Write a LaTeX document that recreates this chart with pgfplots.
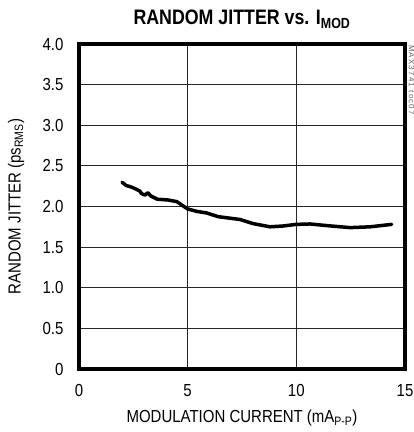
\documentclass[border=0pt]{standalone}
\usepackage{fontspec}
\setmainfont{Liberation Sans}[FakeStretch=0.86]
\newfontfamily\titlefont{Liberation Sans}[FakeStretch=0.85]
\newfontfamily\tocfont{Liberation Sans}[LetterSpace=15]
\usepackage{pgfplots}
\pgfplotsset{compat=1.18}

\begin{document}
\begin{tikzpicture}[x=1bp,y=1bp]
\path[use as bounding box] (0,0) rectangle (414,432);
\begin{axis}[
    at={(79bp,63bp)}, anchor=south west,
    width=326bp, height=325bp, scale only axis,
    xmin=0, xmax=15, ymin=0, ymax=4,
    xtick={0,5,10,15},
    ytick={0,0.5,1,1.5,2,2.5,3,3.5,4},
    yticklabels={0,0.5,1.0,1.5,2.0,2.5,3.0,3.5,4.0},
    major tick length=0pt,
    grid=major,
    grid style={black!85, line width=0.8bp},
    axis line style={line width=3.2bp},
    tick label style={font=\fontsize{17.5}{20}\selectfont},
    /pgf/number format/assume math mode=true,
    yticklabel style={xshift=-12bp},
    xticklabel style={yshift=-12bp},
    xlabel={MODULATION CURRENT (mA\textsubscript{P-P})},
    ylabel={RANDOM JITTER (ps\textsubscript{RMS})},
    label style={font=\fontsize{17.5}{20}\selectfont},
    xlabel style={at={(axis description cs:0.5,-0.151)}, anchor=center},
    ylabel style={at={(axis description cs:-0.193,0.5)}, anchor=center},
]
\addplot[black, line width=3.5bp, line join=round, line cap=round]
    coordinates {(1.98,2.30)(2.16,2.26)(2.4,2.24)(2.58,2.22)(2.8,2.19)(2.87,2.16)
    (3.04,2.14)(3.17,2.17)(3.3,2.13)(3.6,2.09)(4.1,2.08)(4.5,2.06)(4.72,2.02)
    (5.0,1.97)(5.42,1.94)(5.88,1.92)(6.4,1.875)(7.41,1.84)(8.0,1.79)(8.79,1.75)
    (9.39,1.76)(10.0,1.78)(10.63,1.785)(11.4,1.765)(12.47,1.74)(13.4,1.75)(14.39,1.78)};
\end{axis}
\node[anchor=base, font=\titlefont\bfseries\fontsize{21}{24}\selectfont] at (242,407)
    {RANDOM JITTER vs. I\textsubscript{MOD}};
\node[font=\tocfont\fontsize{8}{9}\selectfont, rotate=-90, text=black!60] at (411.5,352) {MAX3741 toc07};
\end{tikzpicture}
\end{document}
